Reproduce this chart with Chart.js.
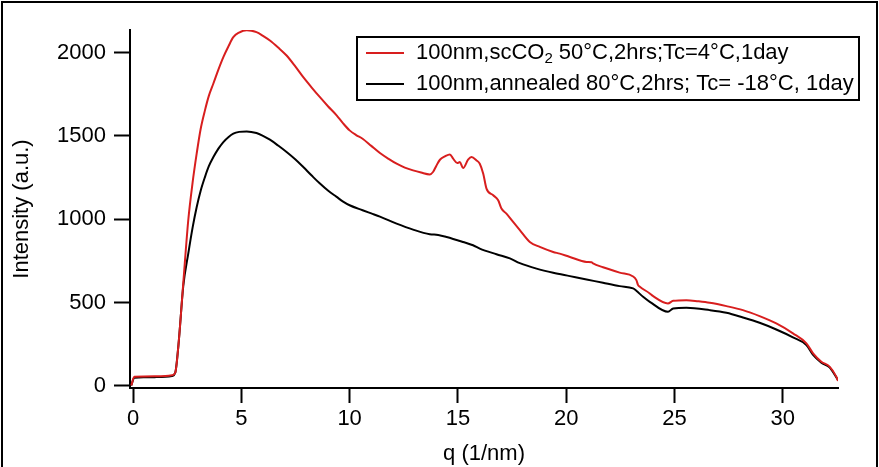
<!DOCTYPE html>
<html>
<head>
<meta charset="utf-8">
<script src="https://cdn.jsdelivr.net/npm/chart.js@4"></script>
<style>
html,body{margin:0;padding:0;background:#fff;}
#wrap{position:relative;width:879px;height:467px;}
canvas{display:block;}
</style>
</head>
<body>
<div id="wrap"><canvas id="c" width="879" height="467"></canvas></div>
<script>
// ---- data ----
const seriesLabels = [
  "100nm,scCO\u2082 50\u00B0C,2hrs;Tc=4\u00B0C,1day",
  "100nm,annealed 80\u00B0C,2hrs; Tc= -18\u00B0C, 1day"
];
const redQ = [-0.08,0.06,0.5,1.0,1.5,1.8,1.95,2.1,2.32,2.55,2.75,2.94,3.12,3.32,3.5,3.71,3.95,4.17,4.4,4.63,4.9,5.25,5.7,6.0,6.32,6.7,7.09,7.5,7.86,8.25,8.63,9.0,9.4,9.7,10.0,10.3,10.6,11.0,11.4,11.8,12.17,12.55,12.93,13.3,13.7,13.86,14.0,14.17,14.4,14.63,14.78,14.97,15.09,15.24,15.47,15.63,15.86,16.01,16.17,16.32,16.63,16.86,17.01,17.24,17.55,17.86,18.32,18.78,19.4,19.7,20.17,20.94,21.17,21.24,21.7,22.47,23.09,23.24,23.32,23.4,23.86,24.0,24.7,24.94,25.55,26.1,26.63,27.4,28.16,28.93,29.7,30.47,31.09,31.4,31.78,32.16,32.47,32.55];
const redI = [3,55,57,58,60,64,80,250,617,994,1220,1395,1540,1653,1740,1814,1900,1972,2035,2092,2120,2134,2122,2100,2072,2030,1982,1915,1852,1790,1732,1678,1623,1575,1533,1505,1483,1440,1397,1362,1333,1310,1293,1280,1269,1285,1320,1357,1377,1389,1363,1337,1343,1307,1357,1373,1353,1333,1273,1184,1144,1114,1064,1034,984,935,864,834,804,794,774,744,742,735,712,680,657,635,605,595,555,540,495,511,515,508,499,479,455,419,375,316,256,196,146,116,56,30];
const blackQ = [-0.08,0.06,0.5,1.0,1.5,1.8,1.95,2.1,2.32,2.55,2.75,2.94,3.12,3.32,3.5,3.71,3.95,4.17,4.4,4.63,4.9,5.25,5.7,6.0,6.32,6.7,7.09,7.5,7.86,8.25,8.63,9.0,9.4,9.7,10.0,10.6,11.0,11.4,12.17,12.93,13.7,14.09,14.48,15.24,15.7,16.01,16.78,17.4,17.86,18.63,19.4,20.17,20.94,21.7,22.47,23.09,23.24,23.55,23.86,24.7,24.94,25.55,26.63,27.4,28.16,28.93,29.7,30.47,31.09,31.4,31.78,32.16,32.55];
const blackI = [3,50,52,53,55,60,80,250,600,794,950,1074,1170,1253,1318,1373,1425,1463,1492,1513,1524,1527,1517,1500,1477,1442,1403,1358,1313,1262,1214,1172,1134,1106,1084,1054,1035,1016,974,938,910,906,894,864,844,824,790,765,737,704,679,659,639,619,599,585,571,535,505,445,465,469,455,439,411,379,339,292,246,186,140,112,36];
const xTicks = [0,5,10,15,20,25,30];
const yTicks = [0,500,1000,1500,2000];
const xTitle = "q (1/nm)";
const yTitle = "Intensity (a.u.)";

const toPts = (q, v) => q.map((x, i) => ({x: x, y: v[i]}));

Chart.defaults.font.family = "'Liberation Sans', Arial, sans-serif";
Chart.defaults.color = "#000";

const legendPlugin = {
  id: 'boxLegend',
  afterDraw(chart) {
    const ctx = chart.ctx;
    ctx.save();
    ctx.strokeStyle = '#000';
    ctx.lineWidth = 2;
    ctx.strokeRect(357, 37, 502, 63);
    const rows = [53, 84];
    chart.data.datasets.forEach((ds, i) => {
      const y = rows[i];
      ctx.strokeStyle = ds.borderColor;
      ctx.lineWidth = 2;
      ctx.beginPath(); ctx.moveTo(366, y); ctx.lineTo(404, y); ctx.stroke();
      ctx.fillStyle = '#000';
      ctx.textBaseline = 'middle';
      ctx.textAlign = 'left';
      const big = "22px 'Liberation Sans', Arial, sans-serif";
      const small = "15px 'Liberation Sans', Arial, sans-serif";
      const parts = ds.label.split('\u2082');
      let x = 416;
      ctx.font = big;
      ctx.fillText(parts[0], x, y);
      x += ctx.measureText(parts[0]).width;
      if (parts.length > 1) {
        ctx.font = small;
        ctx.fillText('2', x, y + 6);
        x += ctx.measureText('2').width;
        ctx.font = big;
        ctx.fillText(parts[1], x, y);
      }
    });
    // outer frame
    ctx.strokeStyle = '#000';
    ctx.lineWidth = 2;
    ctx.beginPath();
    ctx.moveTo(2, 467); ctx.lineTo(2, 2); ctx.lineTo(877, 2); ctx.lineTo(877, 467);
    ctx.stroke();
    ctx.restore();
  }
};

new Chart(document.getElementById('c'), {
  type: 'scatter',
  data: {
    datasets: [
      {label: seriesLabels[0], data: toPts(redQ, redI), borderColor: '#d81e1e', backgroundColor: '#d81e1e', showLine: true, pointRadius: 0, borderWidth: 2, cubicInterpolationMode: 'monotone'},
      {label: seriesLabels[1], data: toPts(blackQ, blackI), borderColor: '#000000', backgroundColor: '#000000', showLine: true, pointRadius: 0, borderWidth: 2, cubicInterpolationMode: 'monotone'}
    ]
  },
  options: {
    responsive: false,
    animation: false,
    layout: {padding: {left: 2, top: 30, right: 41, bottom: 0}},
    plugins: {legend: {display: false}, tooltip: {enabled: false}},
    scales: {
      x: {
        type: 'linear', min: -0.14, max: 32.55,
        afterBuildTicks: (s) => { s.ticks = xTicks.map(v => ({value: v})); },
        afterFit: (s) => { s.height = 79; },
        ticks: {font: {size: 22}, color: '#000', padding: 3, maxRotation: 0, callback: (v) => String(v)},
        grid: {display: true, drawOnChartArea: false, drawTicks: true, tickLength: 15, tickWidth: 2, tickColor: '#000', color: '#000'},
        border: {display: true, color: '#000', width: 2},
        title: {display: true, text: xTitle, font: {size: 22}, color: '#000', padding: {top: 0, bottom: 0}}
      },
      y: {
        type: 'linear', min: -12, max: 2135,
        afterBuildTicks: (s) => { s.ticks = yTicks.map(v => ({value: v})); },
        afterFit: (s) => { s.width = 128; },
        ticks: {font: {size: 22}, color: '#000', padding: 8, callback: (v) => String(v)},
        grid: {display: true, drawOnChartArea: false, drawTicks: true, tickLength: 16, tickWidth: 2, tickColor: '#000', color: '#000'},
        border: {display: true, color: '#000', width: 2},
        title: {display: true, text: yTitle, font: {size: 22}, color: '#000', padding: {top: 7, bottom: 0}}
      }
    }
  },
  plugins: [legendPlugin]
});
</script>
</body>
</html>
